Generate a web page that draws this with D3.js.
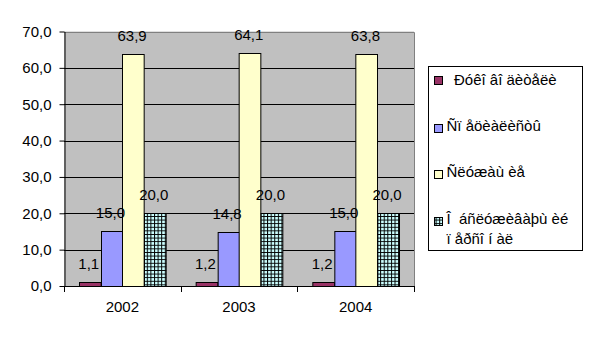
<!DOCTYPE html>
<html>
<head>
<meta charset="utf-8">
<script src="https://cdn.jsdelivr.net/npm/d3@7"></script>
<style>
  html, body { margin: 0; padding: 0; background: #fff; }
  svg { display: block; }
  text { font-family: "Liberation Sans", Arial, sans-serif; }
</style>
</head>
<body>
<svg id="chart" width="594" height="343"></svg>
<script>
// Data
const years = ["2002", "2003", "2004"];
const seriesNames = [
  ["Ðóêî âî äèòåëè"],
  ["Ñï åöèàëèñòû"],
  ["Ñëóæàù èå"],
  ["Î  áñëóæèâàþù èé", "ï åðñî í àë"]
];
const managers   = [1.1, 1.2, 1.2];
const specialists = [15.0, 14.8, 15.0];
const clerks     = [63.9, 64.1, 63.8];
const service    = [20.0, 20.0, 20.0];
const yTicks = [0, 10, 20, 30, 40, 50, 60, 70];

const seriesValues = [managers, specialists, clerks, service];
const seriesFill = ["#993366", "#9999FF", "#FFFFCC", "url(#grid)"];

const svg = d3.select("#chart");
const fmt = v => d3.format(".1f")(v).replace(".", ",");
const FS = 15;

// Hatched grid fill for the last series
const defs = svg.append("defs");
const pat = defs.append("pattern")
  .attr("id", "grid")
  .attr("patternUnits", "userSpaceOnUse")
  .attr("width", 3.6).attr("height", 3.6);
pat.append("rect").attr("width", 3.6).attr("height", 3.6).attr("fill", "#CCFFFF");
pat.append("path").attr("d", "M0,0.5H3.6M0.5,0V3.6")
  .attr("stroke", "#000").attr("stroke-width", 1);

const plot = { left: 64, right: 414, top: 31.5, bottom: 286 };

const x0 = d3.scaleBand().domain(years).range([plot.left, plot.right]).padding(0);
const bw = x0.bandwidth();
const x1 = d3.scaleBand().domain(d3.range(seriesValues.length))
  .range([bw * 0.128, bw * 0.871]).padding(0);
const y = d3.scaleLinear().domain([0, 70]).range([plot.bottom, plot.top]);

// Plot background
svg.append("rect")
  .attr("x", plot.left).attr("y", plot.top)
  .attr("width", plot.right - plot.left).attr("height", plot.bottom - plot.top)
  .attr("fill", "#C0C0C0");

// Horizontal gridlines
svg.append("g").selectAll("line").data(yTicks.slice(1)).join("line")
  .attr("x1", plot.left).attr("x2", plot.right)
  .attr("y1", d => Math.round(y(d)) + 0.5).attr("y2", d => Math.round(y(d)) + 0.5)
  .attr("stroke", "#000").attr("stroke-width", 1);

// Top and right frame
svg.append("path")
  .attr("d", `M${plot.left},${Math.round(plot.top) + 0.5}H${plot.right + 0.5}V${plot.bottom}`)
  .attr("fill", "none").attr("stroke", "#808080").attr("stroke-width", 1);

// Bars
const groups = svg.append("g").selectAll("g").data(years).join("g")
  .attr("transform", d => `translate(${x0(d)},0)`);
groups.selectAll("rect")
  .data((d, i) => seriesValues.map((s, k) => ({ k, v: s[i] })))
  .join("rect")
  .attr("x", d => Math.round(x1(d.k)) + 0.5)
  .attr("width", x1.bandwidth())
  .attr("y", d => Math.round(y(d.v)) + 0.5)
  .attr("height", d => y(0) - Math.round(y(d.v)))
  .attr("fill", d => seriesFill[d.k])
  .attr("stroke", "#000").attr("stroke-width", 1);

// Value labels
groups.selectAll("text.val")
  .data((d, i) => seriesValues.map((s, k) => ({ k, v: s[i] })))
  .join("text")
  .attr("class", "val")
  .attr("x", d => x1(d.k) + x1.bandwidth() / 2 - 1)
  .attr("y", d => y(d.v) - 13)
  .attr("text-anchor", "middle")
  .attr("font-size", FS)
  .attr("fill", "#000")
  .text(d => fmt(d.v));

// Y axis
const yAxis = svg.append("g")
  .attr("transform", `translate(${plot.left + 0.5},0)`)
  .call(d3.axisLeft(y).tickValues(yTicks).tickSize(5).tickSizeOuter(0).tickPadding(8).tickFormat(fmt));
yAxis.select(".domain").attr("stroke", "#000");
yAxis.selectAll(".tick line").attr("stroke", "#000");
yAxis.selectAll(".tick text").attr("font-size", FS).attr("fill", "#000")
  .attr("font-family", "'Liberation Sans', Arial, sans-serif");

// X axis
const xAxis = svg.append("g")
  .attr("transform", `translate(0,${plot.bottom + 0.5})`)
  .call(d3.axisBottom(x0).tickSize(0).tickPadding(15));
xAxis.select(".domain").attr("stroke", "#000")
  .attr("d", `M${plot.left},0H${plot.right + 0.5}`);
xAxis.selectAll(".tick text").attr("font-size", FS).attr("fill", "#000")
  .attr("font-family", "'Liberation Sans', Arial, sans-serif");
// Category separators
svg.append("g").selectAll("line")
  .data(years.map(d => x0(d)).concat([plot.right]))
  .join("line")
  .attr("x1", d => Math.round(d) + 0.5).attr("x2", d => Math.round(d) + 0.5)
  .attr("y1", plot.bottom).attr("y2", plot.bottom + 6)
  .attr("stroke", "#000");

// Legend
const legend = svg.append("g");
legend.append("rect")
  .attr("x", 428.5).attr("y", 66.5).attr("width", 154).attr("height", 184)
  .attr("fill", "#fff").attr("stroke", "#000");
const swatchY = [80.5, 128.5, 174, 221];
const textY = [84.5, 131, 177, 223.5];
const textX = [454, 446.5, 446.5, 446.5];
seriesNames.forEach((lines, k) => {
  legend.append("rect")
    .attr("x", 434.5).attr("y", Math.round(swatchY[k] - 4.5) + 0.5).attr("width", 8).attr("height", 8)
    .attr("fill", seriesFill[k]).attr("stroke", "#000");
  lines.forEach((t, j) => {
    legend.append("text")
      .attr("x", textX[k]).attr("y", textY[k] + j * 20)
      .attr("font-size", FS).attr("fill", "#000")
      .attr("xml:space", "preserve")
      .style("white-space", "pre")
      .text(t);
  });
});
</script>
</body>
</html>
